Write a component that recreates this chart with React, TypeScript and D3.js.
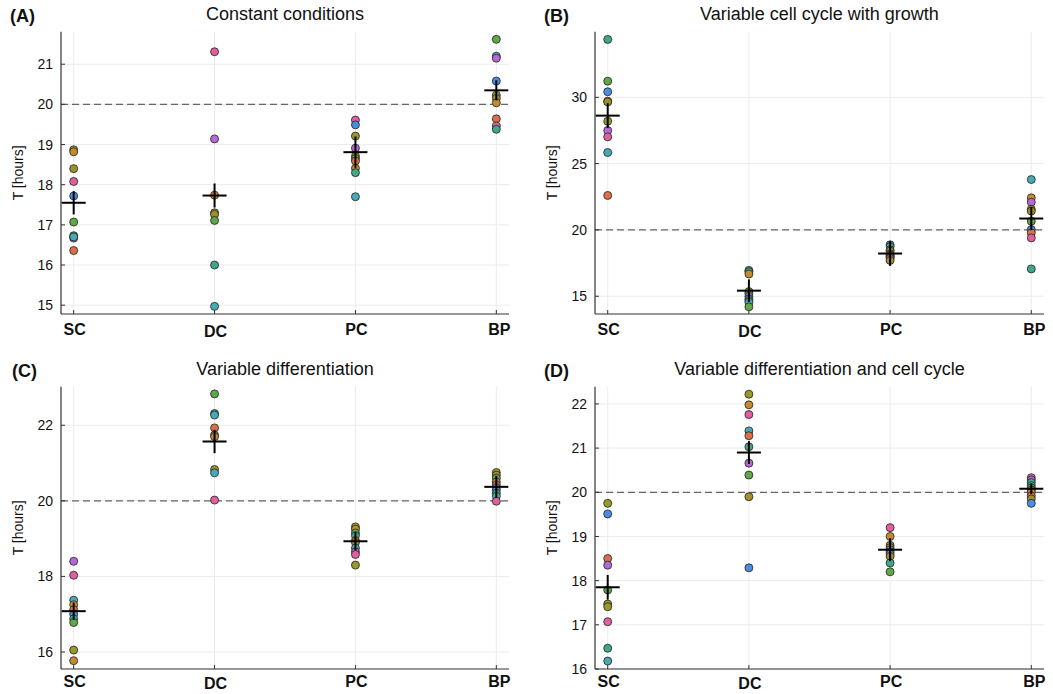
import React from "react";
import * as d3 from "d3";

// ---------- data ----------
const categories = ["SC", "DC", "PC", "BP"];
const panelLetters = ["(A)", "(B)", "(C)", "(D)"];
const panelTitles = [
  "Constant conditions",
  "Variable cell cycle with growth",
  "Variable differentiation",
  "Variable differentiation and cell cycle",
];
const reference = 20;

// replicate colours
const replicateColors = [
  "#d9704a", "#c48a2e", "#9a9a2c", "#5fa84a", "#3fa88a",
  "#48a8b6", "#4a8ee0", "#b46ad6", "#de609c", "#a08f2a",
];

// Panel A: Constant conditions
const valuesA = [
  [18.87, 18.82, 18.40, 18.08, 17.72, 17.07, 16.73, 16.67, 16.36, 16.70],
  [21.31, 19.14, 17.74, 17.30, 17.26, 17.11, 16.00, 14.97],
  [19.61, 19.49, 19.21, 18.91, 18.71, 18.65, 18.59, 18.41, 18.30, 17.70],
  [21.62, 21.20, 21.15, 20.58, 20.23, 20.15, 20.04, 19.64, 19.46, 19.38],
];
const repsA = [
  [2, 1, 9, 8, 6, 3, 4, 7, 0, 5],
  [8, 7, 1, 2, 9, 3, 4, 5],
  [8, 6, 2, 7, 9, 3, 0, 1, 4, 5],
  [3, 5, 7, 6, 2, 9, 1, 0, 8, 4],
];
const meanA = [17.55, 17.73, 18.81, 20.35];
const errA = [0.29, 0.30, 0.39, 0.25];
const ticksA = [15, 16, 17, 18, 19, 20, 21];
const domainA = [14.78, 21.81];

// Panel B: Variable cell cycle with growth
const valuesB = [
  [34.37, 31.22, 30.42, 29.71, 29.65, 28.20, 27.50, 27.02, 25.84, 22.60],
  [16.95, 16.85, 16.68, 15.35, 15.20, 15.00, 14.80, 14.68, 14.55, 14.20],
  [18.88, 18.75, 18.50, 18.40, 18.20, 18.10, 18.00, 17.95, 17.85, 17.70],
  [23.80, 22.42, 22.09, 21.56, 21.42, 20.66, 20.03, 19.78, 19.40, 17.06],
];
const repsB = [
  [4, 3, 6, 1, 9, 2, 7, 8, 5, 0],
  [5, 4, 1, 2, 9, 6, 8, 4, 5, 3],
  [5, 4, 6, 2, 1, 0, 7, 3, 8, 9],
  [5, 1, 7, 2, 9, 3, 6, 0, 8, 4],
];
const meanB = [28.62, 15.42, 18.22, 20.86];
const errB = [0.94, 0.85, 0.93, 0.88];
const ticksB = [15, 20, 25, 30];
const domainB = [13.66, 34.95];

// Panel C: Variable differentiation
const valuesC = [
  [18.40, 18.03, 17.37, 17.25, 17.12, 17.00, 16.88, 16.78, 16.05, 15.77],
  [22.83, 22.31, 22.27, 21.93, 21.74, 21.70, 20.83, 20.74, 20.02],
  [19.31, 19.25, 19.15, 19.08, 18.95, 18.90, 18.75, 18.65, 18.58, 18.30],
  [20.75, 20.68, 20.60, 20.50, 20.42, 20.35, 20.28, 20.20, 20.12, 19.99],
];
const repsC = [
  [7, 8, 5, 1, 0, 6, 4, 3, 2, 1],
  [3, 4, 5, 0, 2, 1, 9, 5, 8],
  [2, 1, 3, 4, 0, 9, 5, 7, 8, 2],
  [2, 9, 3, 1, 0, 7, 6, 4, 5, 8],
];
const meanC = [17.08, 21.57, 18.93, 20.37];
const errC = [0.23, 0.31, 0.24, 0.29];
const ticksC = [16, 18, 20, 22];
const domainC = [15.55, 23.02];

// Panel D: Variable differentiation and cell cycle
const valuesD = [
  [19.75, 19.51, 18.50, 18.35, 17.79, 17.47, 17.41, 17.07, 16.47, 16.18],
  [22.22, 21.98, 21.76, 21.39, 21.28, 21.03, 20.66, 20.39, 19.90, 18.29],
  [19.20, 19.00, 18.80, 18.75, 18.70, 18.65, 18.60, 18.55, 18.40, 18.20],
  [20.33, 20.28, 20.22, 20.15, 20.10, 20.05, 20.00, 19.92, 19.85, 19.75],
];
const repsD = [
  [2, 6, 0, 7, 3, 9, 2, 8, 4, 5],
  [2, 1, 8, 5, 0, 4, 7, 3, 9, 6],
  [8, 1, 2, 0, 5, 6, 7, 9, 4, 3],
  [8, 7, 4, 5, 3, 2, 1, 0, 9, 6],
];
const meanD = [17.85, 20.90, 18.70, 20.08];
const errD = [0.28, 0.26, 0.26, 0.12];
const ticksD = [16, 17, 18, 19, 20, 21, 22];
const domainD = [16, 22.39];

// ---------- layout ----------
const W = 1053;
const H = 694;
const FONT = "'Liberation Sans', Arial, Helvetica, sans-serif";

type PanelProps = {
  left: number; right: number; top: number; bottom: number;
  letter: string; title: string;
  values: number[][]; reps: number[][];
  mean: number[]; err: number[];
  ticks: number[]; domain: number[];
  labelX: number; letterX: number; catOffset: number;
};

function Panel(p: PanelProps) {
  const x = d3.scaleLinear().domain([0.91, 4.09]).range([p.left, p.right]);
  const y = d3.scaleLinear().domain(p.domain).range([p.bottom, p.top]);
  const cx = (i: number) => x(i + 1);
  const midX = (p.left + p.right) / 2;
  const midY = (p.top + p.bottom) / 2;
  return (
    <g>
      {/* grid */}
      {p.ticks.map((t) => (
        <line key={"gy" + t} x1={p.left} x2={p.right} y1={y(t)} y2={y(t)} stroke="#ebebeb" strokeWidth={1} />
      ))}
      {categories.map((c, i) => (
        <line key={"gx" + c} x1={cx(i)} x2={cx(i)} y1={p.top} y2={p.bottom} stroke="#ebebeb" strokeWidth={1} />
      ))}
      {/* reference line */}
      <line x1={p.left} x2={p.right} y1={y(reference)} y2={y(reference)} stroke="#666" strokeWidth={1.3} strokeDasharray="7,4" />
      {/* axes */}
      <line x1={p.left} x2={p.left} y1={p.top} y2={p.bottom} stroke="#333" strokeWidth={1.2} />
      <line x1={p.left} x2={p.right} y1={p.bottom} y2={p.bottom} stroke="#333" strokeWidth={1.2} />
      {p.ticks.map((t) => (
        <g key={"ty" + t}>
          <line x1={p.left} x2={p.left + 4} y1={y(t)} y2={y(t)} stroke="#333" strokeWidth={1} />
          <text x={p.left - 8} y={y(t)} dy="0.36em" textAnchor="end" fontSize={14} fontFamily={FONT} fill="#111">{t}</text>
        </g>
      ))}
      {categories.map((c, i) => (
        <g key={"tx" + c}>
          <line x1={cx(i)} x2={cx(i)} y1={p.bottom} y2={p.bottom - 4} stroke="#333" strokeWidth={1} />
          <text x={cx(i) + (i === 3 ? 3 : 1)} y={p.bottom + p.catOffset + (c === "DC" ? 2 : 0)} textAnchor="middle" fontSize={16} fontWeight="bold" fontFamily={FONT} fill="#111">{c}</text>
        </g>
      ))}
      {/* y label */}
      <text transform={`translate(${p.labelX},${midY}) rotate(-90)`} textAnchor="middle" dy="0.35em" fontSize={14} fontFamily={FONT} fill="#111">T [hours]</text>
      {/* title and letter */}
      <text x={midX} y={p.top - 12} textAnchor="middle" fontSize={18} fontFamily={FONT} fill="#111">{p.title}</text>
      <text x={p.letterX} y={p.top - 10} fontSize={18} fontWeight="bold" fontFamily={FONT} fill="#111">{p.letter}</text>
      {/* points */}
      {p.values.map((vals, i) =>
        vals.map((v, j) => (
          <circle key={`pt${i}-${j}`} cx={cx(i)} cy={y(v)} r={4} fill={replicateColors[p.reps[i][j]]} stroke="#222" strokeWidth={0.8} />
        ))
      )}
      {/* mean +/- error */}
      {p.mean.map((m, i) => (
        <g key={"m" + i}>
          <line x1={cx(i) - 12} x2={cx(i) + 12} y1={y(m)} y2={y(m)} stroke="#000" strokeWidth={2} />
          <line x1={cx(i)} x2={cx(i)} y1={y(m - p.err[i])} y2={y(m + p.err[i])} stroke="#000" strokeWidth={2} />
        </g>
      ))}
    </g>
  );
}

export default function App() {
  const topRow = { top: 31.7, bottom: 314, catOffset: 21 };
  const botRow = { top: 386.7, bottom: 669, catOffset: 18 };
  const leftCol = { left: 61, right: 509, labelX: 18, letterX: 10 };
  const rightCol = { left: 595, right: 1044, labelX: 552, letterX: 544 };
  return (
    <svg width={W} height={H} style={{ position: "absolute", left: 0, top: 0, background: "#fff" }}>
      <rect x={0} y={0} width={W} height={H} fill="#fff" />
      <Panel {...topRow} {...leftCol} letter={panelLetters[0]} title={panelTitles[0]}
        values={valuesA} reps={repsA} mean={meanA} err={errA} ticks={ticksA} domain={domainA} />
      <Panel {...topRow} {...rightCol} letter={panelLetters[1]} title={panelTitles[1]}
        values={valuesB} reps={repsB} mean={meanB} err={errB} ticks={ticksB} domain={domainB} />
      <Panel {...botRow} {...leftCol} letter={panelLetters[2]} title={panelTitles[2]}
        values={valuesC} reps={repsC} mean={meanC} err={errC} ticks={ticksC} domain={domainC} letterX={12} />
      <Panel {...botRow} {...rightCol} letter={panelLetters[3]} title={panelTitles[3]}
        values={valuesD} reps={repsD} mean={meanD} err={errD} ticks={ticksD} domain={domainD} />
    </svg>
  );
}
